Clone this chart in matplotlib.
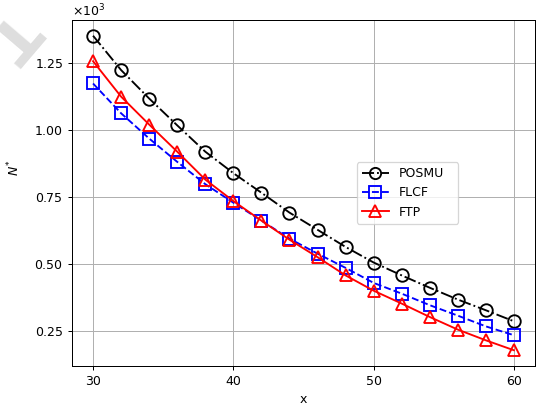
import numpy as np
import matplotlib
matplotlib.use('Agg')
import matplotlib.pyplot as plt

# x values and N* for each method (N* in raw units, axis shown as x10^3)
x = [30, 32, 34, 36, 38, 40, 42, 44, 46, 48, 50, 52, 54, 56, 58, 60]
posmu = [1350, 1222, 1116, 1016, 918, 838, 765, 691, 627, 563, 505, 457, 411, 367, 327, 286]
flcf = [1172, 1061, 967, 880, 797, 728, 661, 594, 538, 485, 429, 389, 346, 307, 267, 234]
ftp = [1255, 1123, 1019, 918, 814, 734, 661, 590, 525, 457, 400, 352, 302, 255, 215, 178]

W, H = 538, 407
fig = plt.figure(figsize=(W / 90, H / 90), dpi=90)
ax = fig.add_axes([72 / W, 1 - 366 / H, (535 - 72) / W, (366 - 20) / H])

ax.plot(x, posmu, 'k-.o', markersize=10, markerfacecolor='none', markeredgewidth=1.5,
        linewidth=1.5, label='POSMU')
ax.plot(x, flcf, 'b--s', markersize=10, markerfacecolor='none', markeredgewidth=1.5,
        linewidth=1.5, label='FLCF')
ax.plot(x, ftp, 'r-^', markersize=10, markerfacecolor='none', markeredgewidth=1.5,
        linewidth=1.5, label='FTP')

ax.set_xlabel('x')
ax.set_ylabel('$N^{*}$')
ax.yaxis.set_label_coords(-0.108, 0.572)
ax.set_xticks([30, 40, 50, 60])
ax.set_yticks([250, 500, 750, 1000, 1250])
ax.ticklabel_format(axis='y', style='sci', scilimits=(3, 3), useMathText=True)
ax.grid(True)
ax.legend(loc='center', bbox_to_anchor=(0.615, 0.5, 0.219, 0.0), mode='expand',
          borderaxespad=0, handlelength=2.2, markerscale=0.9)

# faint watermark fragment at top left
fig.text(-1 / W, 1 - 23 / H, 'T', fontsize=48, fontweight='bold', color='#dedede',
         rotation=229.5, ha='center', va='baseline', rotation_mode='anchor', zorder=-1)

fig.savefig('out.png', dpi=90)
